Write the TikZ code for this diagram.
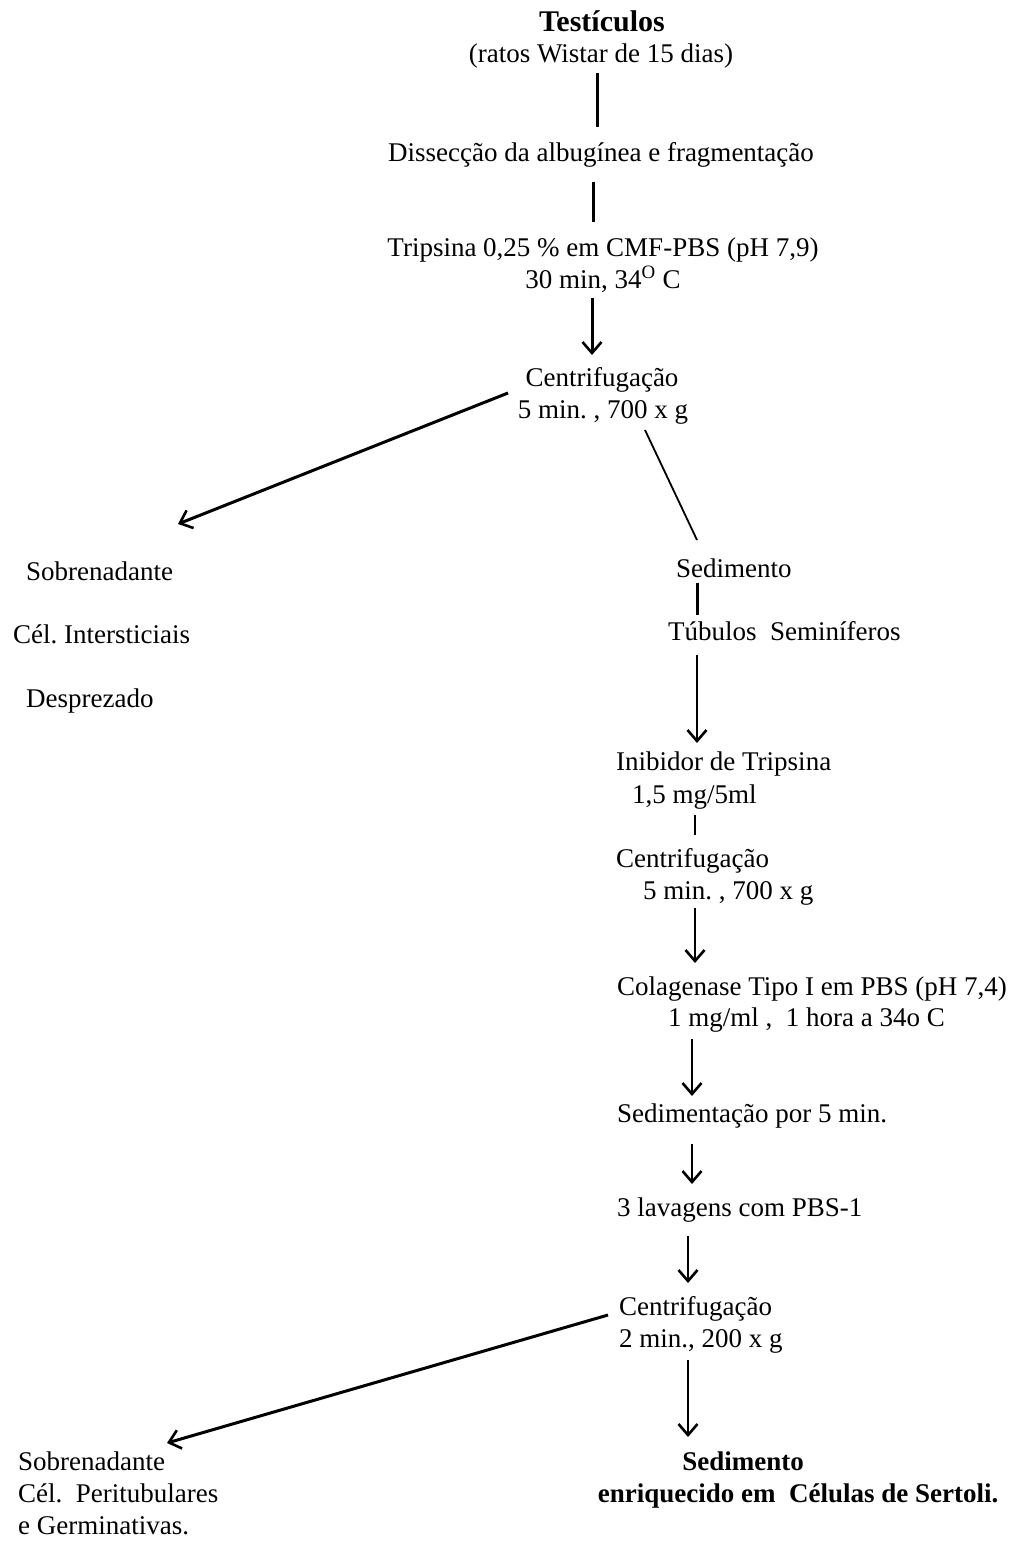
\documentclass[tikz,border=0pt]{standalone}
\usepackage{fontspec}
\setmainfont{Liberation Serif}
\usetikzlibrary{arrows.meta}
\begin{document}
\frenchspacing
\begin{tikzpicture}[x=1pt,y=-1pt,
  txt/.style={inner sep=0pt,font=\fontsize{27}{32}\selectfont},
  ttl/.style={inner sep=0pt,font=\fontsize{30}{36}\selectfont\bfseries},
  bld/.style={inner sep=0pt,font=\fontsize{27}{32}\selectfont\bfseries},
  heavy/.style={line width=3pt},
  thin/.style={line width=1.8pt},
  tip/.style={-{Straight Barb[length=11pt,width=19pt,line width=2.6pt]}}]
\useasboundingbox[fill=white] (0,0) rectangle (1012,1546);

% main column
\node[ttl,anchor=base] (tit) at (602,32) {Testículos};
\node[txt,anchor=base] (rat) at (601,63) {(ratos Wistar de 15 dias)};
\node[txt,anchor=base] (dis) at (601,162) {Dissecção da albugínea e fragmentação};
\node[txt,anchor=base] (tri) at (603,257) {Tripsina 0,25 \% em CMF-PBS (pH 7,9)};
\node[txt,anchor=base] (tri2) at (603,288) {30 min, 34\textsuperscript{O} C};
\node[txt,anchor=base] (cen1) at (602,386) {Centrifugação};
\node[txt,anchor=base] (cen1b) at (603,418) {5 min. , 700 x g};

% first supernatant
\node[txt,anchor=base west] (sob1) at (26,580) {Sobrenadante};
\node[txt,anchor=base west] (int) at (13,643) {Cél. Intersticiais};
\node[txt,anchor=base west] (des) at (26,707) {Desprezado};

% pellet branch
\node[txt,anchor=base west] (sed1) at (676,577) {Sedimento};
\node[txt,anchor=base west] (tub) at (668,640) {Túbulos~ Seminíferos};
\node[txt,anchor=base west] (ini) at (616,770) {Inibidor de Tripsina};
\node[txt,anchor=base west] (ini2) at (632,803) {1,5 mg/5ml};
\node[txt,anchor=base west] (cen2) at (616,867) {Centrifugação};
\node[txt,anchor=base west] (cen2b) at (643,899) {5 min. , 700 x g};
\node[txt,anchor=base west] (col) at (617,995) {Colagenase Tipo I em PBS (pH 7,4)};
\node[txt,anchor=base west] (col2) at (668,1026) {1 mg/ml ,~ 1 hora a 34o C};
\node[txt,anchor=base west] (sdm) at (617,1122) {Sedimentação por 5 min.};
\node[txt,anchor=base west] (lav) at (617,1216) {3 lavagens com PBS-1};
\node[txt,anchor=base west] (cen3) at (619,1315) {Centrifugação};
\node[txt,anchor=base west] (cen3b) at (619,1347) {2 min., 200 x g};

% final fractions
\node[txt,anchor=base west] (sob2) at (18,1470) {Sobrenadante};
\node[txt,anchor=base west] (per) at (18,1502) {Cél.~ Peritubulares};
\node[txt,anchor=base west] (ger) at (18,1534) {e Germinativas.};
\node[bld,anchor=base] (sed2) at (743,1470) {Sedimento};
\node[bld,anchor=base] (enr) at (798,1502) {enriquecido em~ Células de Sertoli.};

% connectors
\draw[heavy] ([shift={(-4,10)}]rat.base) -- ([shift={(-4,-35)}]dis.base);
\draw[heavy] ([shift={(-8,20)}]dis.base) -- ([shift={(-10,-35)}]tri.base);
\draw[heavy,tip] ([shift={(-11,10)}]tri2.base) -- ([shift={(-10,-31)}]cen1.base);
\draw[heavy,tip] ([shift={(-94,7)}]cen1.base) -- ([shift={(152,-56)}]sob1.base west);
\draw[thin] ([shift={(42,12)}]cen1b.base) -- ([shift={(21,-37)}]sed1.base west);
\draw[heavy] ([shift={(21,6)}]sed1.base west) -- ([shift={(29,-25)}]tub.base west);
\draw[thin,tip] ([shift={(29,15)}]tub.base west) -- ([shift={(81,-27)}]ini.base west);
\draw[thin] ([shift={(63,12)}]ini2.base west) -- ([shift={(79,-32)}]cen2.base west);
\draw[thin,tip] ([shift={(52,9)}]cen2b.base west) -- ([shift={(78,-32)}]col.base west);
\draw[thin,tip] ([shift={(24,13)}]col2.base west) -- ([shift={(75,-26)}]sdm.base west);
\draw[thin,tip] ([shift={(75,22)}]sdm.base west) -- ([shift={(75,-32)}]lav.base west);
\draw[thin,tip] ([shift={(71,20)}]lav.base west) -- ([shift={(69,-32)}]cen3.base west);
\draw[heavy,tip] ([shift={(-11,0)}]cen3.base west) -- ([shift={(149,-27)}]sob2.base west);
\draw[thin,tip] ([shift={(69,13)}]cen3b.base west) -- ([shift={(-55,-33)}]sed2.base);
\end{tikzpicture}
\end{document}
